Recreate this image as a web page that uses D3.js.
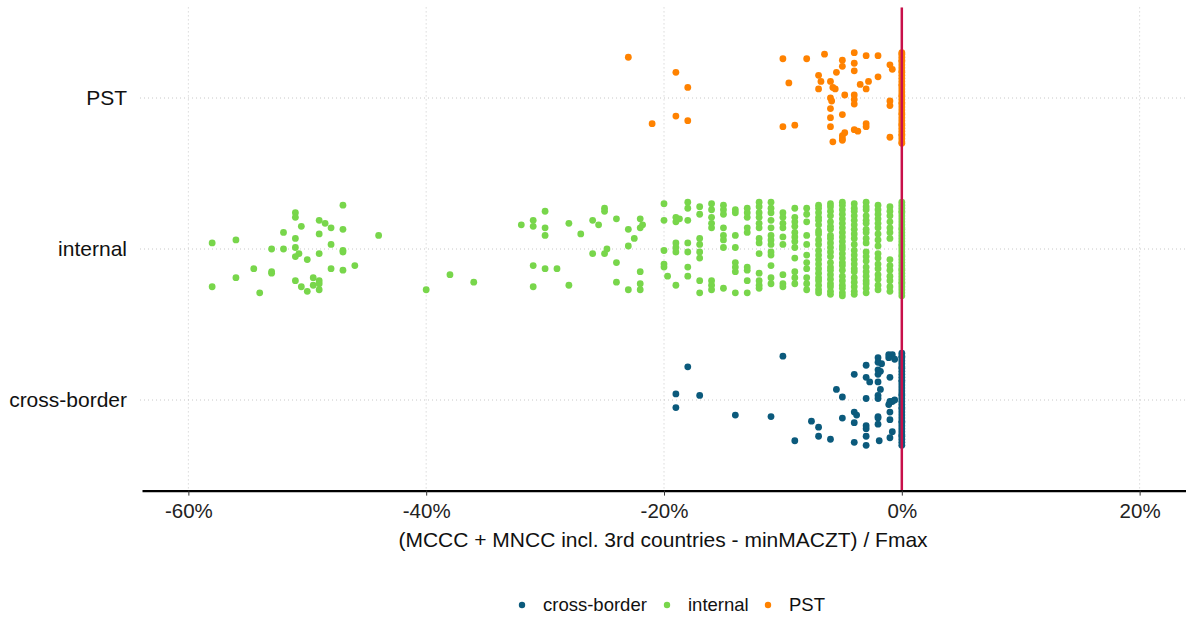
<!DOCTYPE html>
<meta charset="utf-8">
<style>
  body { margin: 0; background: #fff; }
  text { font-family: "Liberation Sans", Arial, sans-serif; }
</style>
<script src="https://d3js.org/d3.v7.min.js"></script>
<div id="strip"></div>
<script>

// categories bottom -> top
var categories = ["cross-border", "internal", "PST"];
var colors = ["#0b5a7c", "#78d64b", "#ff8200"];
var xTicks = [-60, -40, -20, 0, 20];

// [value %, vertical jitter in hundredths of a category step, + = down]
var pstScatter = [
  [-23,-27],[-19,-17],[-18,-7],[-19,12],[-18,15],[-21,17],
  [-10,-26],[-8,-26],[-6.5,-29],[-4,-30],[-3,-28],[-2,-28],[-5,-25],[-5,-21],
  [-4,-23],[-1,-22],[-0.8,-19],[-4,-18],[-5.5,-17],[-7,-15],[-2,-14],[-2.8,-11],
  [-3.5,-9],[-9.5,-10],[-6.8,-11],[-6,-11],[-7,-6],[-5.8,-7],[-5.6,-6],[-3,-6],
  [-4.8,-2],[-4,-2],[-4,1],[-4,4],[-6,0],[-5.9,2],[-1,2],[-1,5],[-6,7],[-5,11],
  [-6,13],[-6,19],[-10,19],[-9,18],[-4,21],[-3.7,22],[-3,17],[-3,19],[-4.8,23],
  [-5,25],[-5,27],[-5,28],[-5.8,29],[-1,26]
];
var pstZero = [-30,-29,-27,-25,-24,-22,-20,-18,-17,-15,-13,-11,-9,-8,-6,-4,-2,-1,
  1,3,4,6,8,10,11,13,15,17,18,20,22,24,25,27,29,30];

var internalScatter = [
  [-47,-29],[-51,-24],[-51,-21],[-49,-19],[-48.5,-17],[-50.5,-15],[-48,-14],[-47,-13],
  [-52,-11],[-49,-10],[-44,-9],[-51,-7],[-58,-4],[-56,-6],[-48,-3],[-53,0],[-52,0],
  [-51,-1],[-47,1],[-47,2],[-50.7,3],[-51,5],[-49,3],[-50,7],[-46,11],[-48,13],[-47,14],
  [-54.5,13],[-53,15],[-53,16],[-56,19],[-49.5,19],[-51,21],[-49,21],[-49,23],[-49.5,24],
  [-58,25],[-50.5,25],[-54,29],[-50,28],[-49,27],
  [-38,17],[-36,22],[-40,27],
  [-32,-16],[-31,-19],[-31,-15],[-31,11],[-31,25],
  [-30,-25],[-30,-14],[-30,-9],[-28,-17],[-27,-10],[-26,-19],[-25.5,-16],[-25,-27],[-25,-25],
  [-24,-20],[-23,-13],[-22,-20],[-21.8,-16],[-22,-14],[-22.5,-7],[-23,-2],[-24.8,0],[-25,3],
  [-26,3],[-30,13],[-29,13],[-24,9],[-22,15],[-28,24],[-24,22],[-23,27],[-22,23],[-22,27],
  [-20,-30],[-20,-19],[-20,1],[-20,10],[-20,12],[-19.7,18],[-19,24],
  [-19,-21],[-19,-18],[-19,-1],[-19,2],[-19,-4],[-18.7,-20],
  [-18,-31],[-18,-27],[-18,-19],[-18,-4],[-18,2],[-18,12],[-18,18],
  [-17,-28],[-17,-23],[-17,-7],[-17,-3],[-17,2],[-17,6],[-17,21],[-17,29]
];
var internalColumns = [-16, -15, -14, -13, -12, -11, -10, -9, -8, -7, -6, -5, -4, -3, -2, -1];
var internalColumnJitter = [
  [-30,-26,-21,-17,-14,21,24,27],
  [-29,-26,-23,-14,-9,-6,-1,26],
  [-26,-24,-9,-1,9,12,15,29],
  [-27,-24,-21,-14,-11,12,14,21,29],
  [-31,-28,-24,-21,-17,-14,-7,-4,3,16,21,24,26],
  [-31,-27,-24,-19,-14,-9,-6,-3,2,4,11,19,23],
  [-24,-21,-17,-14,-8,-3,17,23,25],
  [-27,-21,-18,-15,-11,-8,-5,-1,6,15,19,23],
  [-27,-23,-18,-9,-3,4,9,13,19,23,27],
  [-29,-27,-24,-21,-19,-16,-12,-10,-6,-3,1,4,7,10,13,16,19,21,24,27,29],
  [-30,-28,-25,-22,-18,-15,-13,-9,-7,-4,-1,2,5,9,12,14,17,20,23,25,28,30],
  [-31,-29,-26,-23,-20,-17,-14,-11,-8,-5,-2,0,3,6,9,11,14,18,21,24,26,29,31],
  [-30,-27,-25,-22,-19,-16,-13,-10,-7,-3,1,4,7,10,13,15,19,22,25,28,30],
  [-31,-28,-26,-22,-19,-17,-13,-11,-7,-4,2,5,8,12,15,18,21,23,26,29],
  [-29,-26,-23,-20,-17,-14,-10,-6,-2,3,6,10,13,17,20,24,27],
  [-28,-25,-22,-18,-14,-11,-7,7,11,14,18,21,25,28]
];
var internalZero = [-31,-29,-27,-25,-24,-22,-20,-18,-16,-14,-13,-11,-9,-7,-5,-3,-2,0,
  2,4,5,7,9,11,13,14,16,18,20,22,23,25,27,29,31];

var crossScatter = [
  [-18,-22],[-19,-4],[-19,5],[-17,-3],[-10,-29],[-14,10],[-11,11],[-9,27],[-7.6,14],
  [-7,18],[-7,24],[-6,26],[-5.5,-7],[-5,-2],[-5,12],[-4,-17],[-4,8],[-3.8,10],[-4,15],
  [-4,28],[-3,-23],[-3,-15],[-2.7,-12],[-3,-1],[-3,17],[-3,19],[-3,24],[-3,30],
  [-2,-28],[-2,-25],[-1.7,-24],[-2,-20],[-1.8,-19],[-2,-17],[-2,-12],[-1.8,-7],[-2,-3],
  [-2,-1],[-2,11],[-2,12],[-2,16],[-1.9,27],[-1.1,-30],[-0.8,-30],[-1.1,-28],[-0.6,-27],
  [-1,-15],[-1,1],[-1.1,3],[-0.8,1],[-0.6,0],[-1,8],[-1,13],[-0.8,21],[-1,25]
];
var crossZero = [-31,-29,-28,-26,-24,-22,-21,-19,-17,-15,-13,-12,-10,-8,-6,-4,-3,-1,
  1,3,5,6,8,10,12,14,15,17,19,21,23,24,26,28,30];

var W = 1186, H = 619;
var plotLeft = 142, plotRight = 1186, plotTop = 7.4, plotBottom = 490.6;

var x = d3.scaleLinear().domain([-63.9, 23.9]).range([plotLeft, plotRight]);
var y = d3.scaleLinear().domain([-0.6, 2.6]).range([plotBottom, plotTop]);

var svg = d3.select("#strip").append("svg")
  .attr("width", W).attr("height", H);

// grid
svg.append("g").selectAll("line").data(xTicks).enter().append("line")
  .attr("x1", function(d) { return x(d); }).attr("x2", function(d) { return x(d); })
  .attr("y1", plotTop).attr("y2", plotBottom)
  .attr("stroke", "#c8c8c8").attr("stroke-width", 1).attr("stroke-dasharray", "1,3");
svg.append("g").selectAll("line").data(categories).enter().append("line")
  .attr("x1", plotLeft - 2).attr("x2", plotRight)
  .attr("y1", function(d, i) { return y(i); }).attr("y2", function(d, i) { return y(i); })
  .attr("stroke", "#c8c8c8").attr("stroke-width", 1).attr("stroke-dasharray", "1,3");

// flatten the points
var points = [];
function addScatter(arr, g) { arr.forEach(function(p) { points.push({g: g, v: p[0], j: p[1]}); }); }
function addColumn(v, js, g) { js.forEach(function(j) { points.push({g: g, v: v, j: j}); }); }
addScatter(crossScatter, 0); addColumn(0, crossZero, 0);
addScatter(internalScatter, 1);
internalColumns.forEach(function(v, i) { addColumn(v, internalColumnJitter[i], 1); });
addColumn(0, internalZero, 1);
addScatter(pstScatter, 2); addColumn(0, pstZero, 2);

svg.append("g").selectAll("circle").data(points).enter().append("circle")
  .attr("cx", function(d) { return x(d.v); })
  .attr("cy", function(d) { return y(d.g - d.j / 100); })
  .attr("r", 3.4)
  .attr("fill", function(d) { return colors[d.g]; });

// zero reference line
svg.append("line")
  .attr("x1", x(0)).attr("x2", x(0)).attr("y1", plotTop).attr("y2", plotBottom)
  .attr("stroke", "#c8104a").attr("stroke-width", 2.5);

// x axis
var xAxis = svg.append("g").attr("transform", "translate(0," + plotBottom + ")")
  .call(d3.axisBottom(x).tickValues(xTicks).tickSize(5).tickSizeOuter(0)
    .tickFormat(function(d) { return d + "%"; }));
xAxis.select(".domain").attr("stroke", "#000").attr("stroke-width", 2.2);
xAxis.selectAll(".tick line").attr("stroke", "#333");
xAxis.selectAll(".tick text").attr("font-size", 20.5).attr("fill", "#222")
  .attr("dy", "0.71em").attr("y", 13);

// y labels
svg.append("g").selectAll("text").data(categories).enter().append("text")
  .attr("x", 127).attr("y", function(d, i) { return y(i); })
  .attr("dy", "0.35em").attr("text-anchor", "end")
  .attr("font-size", 21).attr("fill", "#111")
  .text(function(d) { return d; });

// x title
svg.append("text")
  .attr("x", (plotLeft + plotRight) / 2 - 1).attr("y", 547)
  .attr("text-anchor", "middle").attr("font-size", 21).attr("fill", "#111")
  .text("(MCCC + MNCC incl. 3rd countries - minMACZT) / Fmax");

// legend
var legendX = [522, 667, 768];
var lg = svg.append("g").selectAll("g").data(categories).enter().append("g")
  .attr("transform", function(d, i) { return "translate(" + legendX[i] + ",605)"; });
lg.append("circle").attr("r", 3.2).attr("fill", function(d, i) { return colors[i]; });
lg.append("text").attr("x", 21).attr("dy", "0.35em")
  .attr("font-size", 18.5).attr("fill", "#111")
  .text(function(d) { return d; });

</script>
